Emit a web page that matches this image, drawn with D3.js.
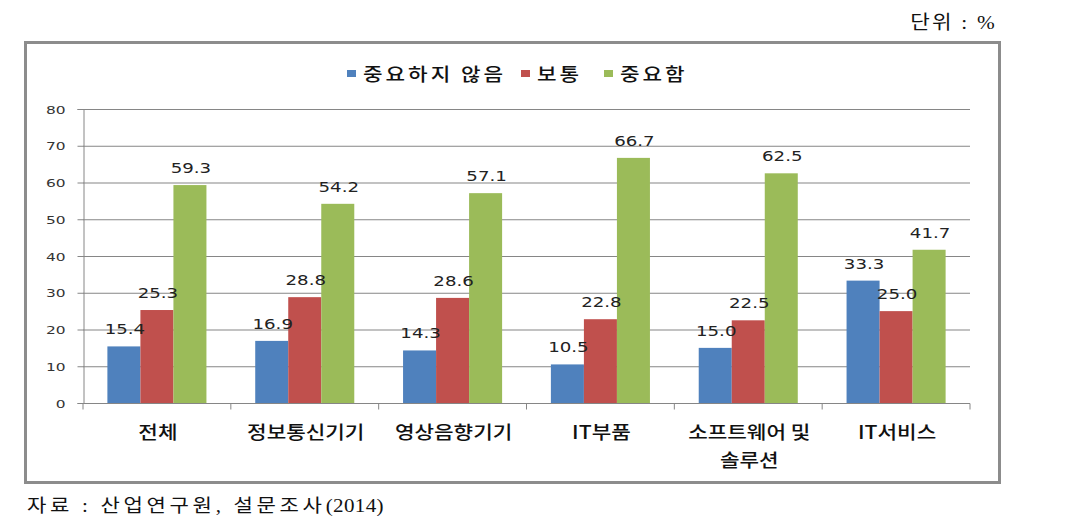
<!DOCTYPE html>
<html><head><meta charset="utf-8">
<script src="https://cdn.jsdelivr.net/npm/d3@7"></script>
<style>body{margin:0;background:#fff}</style>
</head><body>
<script>
const categories = [["전체"],["정보통신기기"],["영상음향기기"],["IT부품"],["소프트웨어 및","솔루션"],["IT서비스"]];
const seriesNames = ["중요하지 않음","보통","중요함"];
const notImportant = [15.4,16.9,14.3,10.5,15.0,33.3];
const normal = [25.3,28.8,28.6,22.8,22.5,25.0];
const important = [59.3,54.2,57.1,66.7,62.5,41.7];
const yTicks = [0,10,20,30,40,50,60,70,80];
const colors = ["#4F81BD","#C0504D","#9BBB59"];
const series = [notImportant, normal, important];

const W=1084,H=529;
const svg = d3.select("body").append("svg").attr("width",W).attr("height",H);
const serif = "'Liberation Serif','Noto Sans CJK KR'";
const kr = "'Noto Sans CJK KR'";
const place = (sel,x,y,s)=>sel.attr("transform",`translate(${x},${y}) scale(${s},1)`);

// unit & footnote
place(svg.append("text"),997,29,1.12).attr("text-anchor","end")
  .attr("font-family",serif).attr("font-size",19).attr("letter-spacing",2).attr("fill","#111").text("단위 : %");
const foot = place(svg.append("text"),27,512,1.14)
  .attr("font-family",serif).attr("font-size",18.5).attr("fill","#111");
foot.append("tspan").attr("letter-spacing",3.2).text("자료 : 산업연구원, 설문조사");
foot.append("tspan").attr("letter-spacing",0.3).text("(2014)");

// frame
svg.append("rect").attr("x",25.5).attr("y",42.5).attr("width",974).attr("height",440)
  .attr("fill","#fff").attr("stroke","#8c8c8c").attr("stroke-width",3);

const x0 = d3.scaleBand().domain(d3.range(categories.length)).range([83,970]).paddingInner(0.33).paddingOuter(0.165);
const x1 = d3.scaleBand().domain(d3.range(3)).range([0,x0.bandwidth()]);
const y = d3.scaleLinear().domain([0,80]).range([403,109]);

// gridlines
svg.append("g").selectAll("line").data(yTicks.filter(d=>d>0)).join("line")
  .attr("x1",83).attr("x2",970).attr("y1",d=>y(d)+0.5).attr("y2",d=>y(d)+0.5)
  .attr("stroke","#868686").attr("stroke-width",1.2);

// y axis
const ya = svg.append("g").attr("transform","translate(83.5,0)")
  .call(d3.axisLeft(y).tickValues(yTicks).tickSize(6));
ya.select(".domain").attr("stroke","#868686");
ya.selectAll(".tick line").attr("stroke","#868686");
ya.selectAll(".tick text").attr("x",null).attr("dy",null)
  .attr("transform","translate(-18,4) scale(1.4,1)")
  .attr("font-family","'DejaVu Sans'").attr("font-size",11).attr("fill","#333");

// bars
const g = svg.append("g");
series.forEach((s,si)=>{
  g.selectAll(".b"+si).data(s).join("rect")
    .attr("x",(d,i)=>x0(i)+x1(si)).attr("width",x1.bandwidth())
    .attr("y",d=>y(d)).attr("height",d=>y(0)-y(d)).attr("fill",colors[si]);
});
series.forEach((s,si)=>{
  g.selectAll(".l"+si).data(s).join("text")
    .attr("transform",(d,i)=>`translate(${x0(i)+x1(si)+x1.bandwidth()/2+1},${y(d)-12}) scale(1.3,1)`)
    .attr("text-anchor","middle").attr("font-family","'DejaVu Sans'").attr("font-size",14).attr("fill","#222")
    .text(d=>d.toFixed(1));
});

// x axis
const xb = d3.scaleLinear().domain([0,6]).range([83,970]);
const xa = svg.append("g").attr("transform","translate(0,403.5)");
xa.append("line").attr("x1",83).attr("x2",970).attr("stroke","#868686").attr("stroke-width",1.2);
xa.selectAll(".t").data(d3.range(7)).join("line").attr("x1",d=>xb(d)).attr("x2",d=>xb(d)).attr("y1",0).attr("y2",6).attr("stroke","#868686");
xa.selectAll(".c").data(categories).join("text")
  .attr("transform",(d,i)=>`translate(${x0(i)+x0.bandwidth()/2+1},35) scale(1.15,1)`)
  .attr("text-anchor","middle").attr("font-family",kr).attr("font-weight",500).attr("font-size",18.5).attr("fill","#111")
  .each(function(d){
    const t=d3.select(this);
    d.forEach((line,k)=>t.append("tspan").attr("x",0).attr("dy",k?29:0).text(line));
  });

// legend
const leg = svg.append("g");
const legX=[347,521,604];
seriesNames.forEach((n,i)=>{
  leg.append("rect").attr("x",legX[i]).attr("y",70).attr("width",9).attr("height",7).attr("fill",colors[i]);
  place(leg.append("text"),legX[i]+16,81,1.15).attr("font-family",kr).attr("font-weight",500).attr("font-size",18.5).attr("letter-spacing",2.6).attr("fill","#111").text(n);
});
</script>
</body></html>
